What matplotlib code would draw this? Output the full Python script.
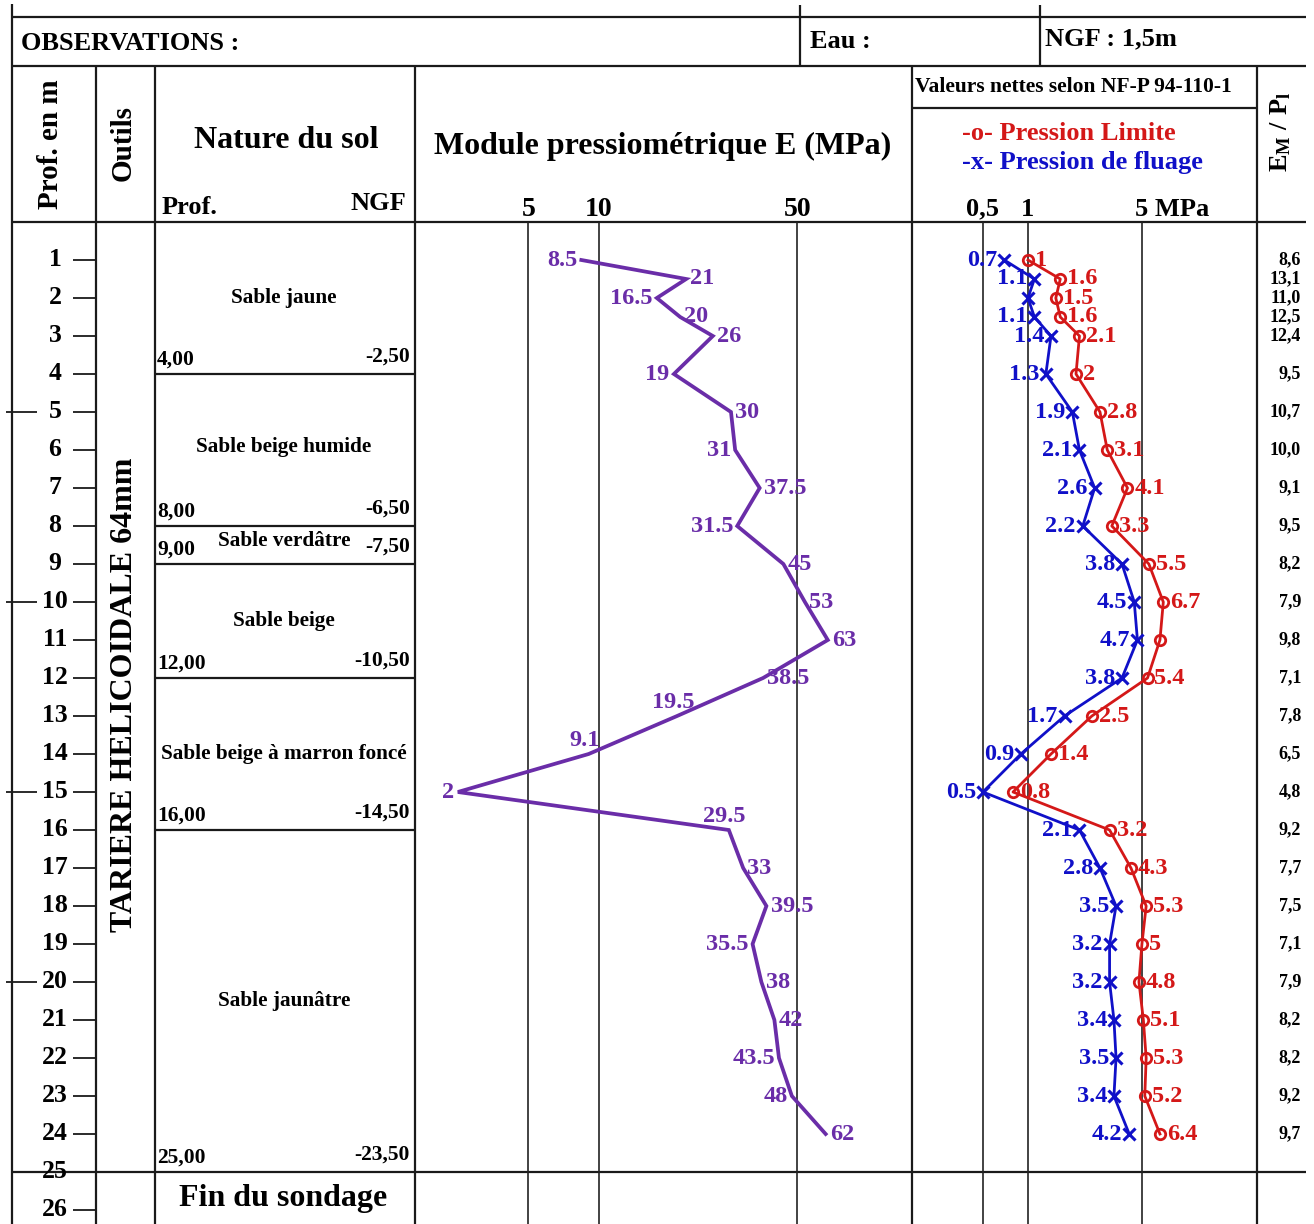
import numpy as np
import matplotlib
matplotlib.use('Agg')
import matplotlib.pyplot as plt
from matplotlib.transforms import blended_transform_factory

# ---------------- data ----------------
depth = [1, 1.5, 2, 2.5, 3, 4, 5, 6, 7, 8, 9, 10, 11, 12, 13, 14, 15, 16, 17, 18, 19, 20, 21, 22, 23, 24]
E_mod = [8.5, 21, 16.5, 20, 26, 19, 30, 31, 37.5, 31.5, 45, 53, 63, 38.5, 19.5, 9.1, 2, 29.5,
         33, 39.5, 35.5, 38, 42, 43.5, 48, 62]
p_lim = [1, 1.6, 1.5, 1.6, 2.1, 2, 2.8, 3.1, 4.1, 3.3, 5.5, 6.7, 6.4, 5.4, 2.5, 1.4, 0.8, 3.2,
         4.3, 5.3, 5, 4.8, 5.1, 5.3, 5.2, 6.4]
p_lim_labels = ['1', '1.6', '1.5', '1.6', '2.1', '2', '2.8', '3.1', '4.1', '3.3', '5.5', '6.7', '',
                '5.4', '2.5', '1.4', '0.8', '3.2', '4.3', '5.3', '5', '4.8', '5.1', '5.3', '5.2', '6.4']
p_flu = [0.7, 1.1, 1.0, 1.1, 1.4, 1.3, 1.9, 2.1, 2.6, 2.2, 3.8, 4.5, 4.7, 3.8, 1.7, 0.9, 0.5, 2.1,
         2.8, 3.5, 3.2, 3.2, 3.4, 3.5, 3.4, 4.2]
p_flu_labels = ['0.7', '1.1', '', '1.1', '1.4', '1.3', '1.9', '2.1', '2.6', '2.2', '3.8', '4.5', '4.7',
                '3.8', '1.7', '0.9', '0.5', '2.1', '2.8', '3.5', '3.2', '3.2', '3.4', '3.5', '3.4', '4.2']
em_pl = ['8,6', '13,1', '11,0', '12,5', '12,4', '9,5', '10,7', '10,0', '9,1', '9,5', '8,2', '7,9', '9,8',
         '7,1', '7,8', '6,5', '4,8', '9,2', '7,7', '7,5', '7,1', '7,9', '8,2', '8,2', '9,2', '9,7']

layer_names = ['Sable jaune', 'Sable beige humide', 'Sable verdâtre', 'Sable beige',
               'Sable beige à marron foncé', 'Sable jaunâtre']
layer_bottom = [4, 8, 9, 12, 16, 25]
layer_ngf = [-2.5, -6.5, -7.5, -10.5, -14.5, -23.5]
layer_label_depth = [2.0, 5.92, 8.4, 10.5, 14.0, 20.5]

E_ticks = [5, 10, 50]
E_tick_labels = ['5', '10', '50']
P_ticks = [0.5, 1, 5]
depth_ticks = list(range(1, 27))

# label placement (style)
E_side = ['l', 'r', 'l', 'r', 'r', 'l', 'r', 'l', 'r', 'l', 'r', 'r', 'r', 'r', 'a', 'a', 'l', 'a',
          'r', 'r', 'l', 'r', 'r', 'l', 'l', 'r']

# ---------------- style ----------------
plt.rcParams['font.family'] = ['Liberation Serif', 'DejaVu Serif']
plt.rcParams['font.weight'] = 'bold'
plt.rcParams['mathtext.fontset'] = 'custom'
plt.rcParams['mathtext.rm'] = 'Liberation Serif:bold'
plt.rcParams['mathtext.it'] = 'Liberation Serif:bold'
plt.rcParams['mathtext.bf'] = 'Liberation Serif:bold'

PURPLE = '#6a2da8'
RED = '#d41818'
BLUE = '#1010c8'
LINE = '#1a1a1a'
GRID = '#222222'
FW = 'bold'

W, H = 1314, 1224
fig = plt.figure(figsize=(W / 100, H / 100), dpi=100)
fig.patch.set_facecolor('white')


def px_axes(x0, y0, x1, y1, z):
    ax = fig.add_axes([x0 / W, 1 - y1 / H, (x1 - x0) / W, (y1 - y0) / H], zorder=z)
    ax.patch.set_alpha(0)
    ax.axis('off')
    return ax


frame = px_axes(0, 0, W, H, 0)
frame.set_xlim(0, W)
frame.set_ylim(H, 0)

TOP = 222
PXM = 38.0
DMAX = (H - TOP) / PXM

body = px_axes(0, TOP, W, H, 1)
body.set_xlim(0, W)
body.set_ylim(DMAX, 0)

# ---------------- table frame ----------------
lw = 1.6
frame.vlines(12, 4, H, color=LINE, lw=lw)
frame.hlines([17, 66, 222], 12, 1306, color=LINE, lw=lw)
frame.vlines([800, 1040], 5, 66, color=LINE, lw=lw)
frame.vlines([96, 155, 415, 912, 1257], 66, H, color=LINE, lw=lw)
frame.hlines(108, 912, 1257, color=LINE, lw=lw)

frame.text(21, 43, 'OBSERVATIONS :', fontsize=19, va='center', ha='left', fontweight=FW)
frame.text(810, 42, 'Eau :', fontsize=19, va='center', ha='left', fontweight=FW)
frame.text(1045, 39, 'NGF : 1,5m', fontsize=19, va='center', ha='left', fontweight=FW)
frame.text(50, 144, 'Prof. en m', fontsize=21, rotation=90, va='center', ha='center', fontweight=FW)
frame.text(123, 143, 'Outils', fontsize=21, rotation=90, va='center', ha='center', fontweight=FW)
frame.text(286, 141, 'Nature du sol', fontsize=23, va='center', ha='center', fontweight=FW)
frame.text(162, 207, 'Prof.', fontsize=19, va='center', ha='left', fontweight=FW)
frame.text(406, 203, 'NGF', fontsize=19, va='center', ha='right', fontweight=FW)
frame.text(663, 146, 'Module pressiométrique E (MPa)', fontsize=23, va='center', ha='center',
           fontweight=FW)
frame.text(1073, 87, 'Valeurs nettes selon NF-P 94-110-1', fontsize=15.5, va='center', ha='center',
           fontweight=FW)
frame.text(962, 133, '-o- Pression Limite', fontsize=19, va='center', ha='left', color=RED, fontweight=FW)
frame.text(962, 163, '-x- Pression de fluage', fontsize=19, va='center', ha='left', color=BLUE,
           fontweight=FW)
frame.text(1281, 132, r'$E_M\ /\ P_l$', fontsize=19, rotation=90, va='center', ha='center')

# ---------------- depth column ----------------
body.hlines(25, 12, 1306, color=LINE, lw=lw)
for d in depth_ticks:
    if d != 25:
        body.hlines(d, 73, 96, color=LINE, lw=1.3)
    if d % 5 == 0 and d != 25:
        body.hlines(d, 6, 37, color=LINE, lw=1.3)
    body.text(55, d, str(d), fontsize=18.5, ha='center', va='center', fontweight=FW)

body.text(125, 12.45, 'TARIERE HELICOIDALE 64mm', fontsize=23, rotation=90, ha='center', va='center',
          fontweight=FW)

# ---------------- soil column ----------------
body.hlines(layer_bottom[:-1], 155, 415, color=LINE, lw=1.6)
for name, dl, db, ngf in zip(layer_names, layer_label_depth, layer_bottom, layer_ngf):
    body.text(284, dl, name, fontsize=15.3, ha='center', va='center', fontweight=FW)
    body.annotate(f'{db:.2f}'.replace('.', ','), xy=(157, db), xytext=(0, 3),
                  textcoords='offset points', fontsize=15.5, ha='left', va='bottom', fontweight=FW)
    body.annotate(f'{ngf:.2f}'.replace('.', ','), xy=(410, db), xytext=(0, 5),
                  textcoords='offset points', fontsize=15.5, ha='right', va='bottom', fontweight=FW)
body.text(283, 25.7, 'Fin du sondage', fontsize=23, ha='center', va='center', fontweight=FW)

# ---------------- E modulus column ----------------
axE = px_axes(415, TOP, 912, H, 2)
axE.set_xscale('function', functions=(lambda v: np.log10(np.asarray(v) + 2.5),
                                      lambda v: 10 ** np.asarray(v) - 2.5))
axE.set_xlim(0.8, 118)
axE.set_ylim(DMAX, 0)
axE.vlines(E_ticks, 0, DMAX, color=GRID, lw=1.2)
axE.plot(E_mod, depth, color=PURPLE, lw=2.7, solid_joinstyle='miter')
LFS = 17.5
for v, d, s in zip(E_mod, depth, E_side):
    txt = f'{v:g}'
    if s == 'r':
        axE.annotate(txt, (v, d), xytext=(3, 0), textcoords='offset points', ha='left', va='center',
                     color=PURPLE, fontsize=LFS, fontweight=FW)
    elif s == 'l':
        axE.annotate(txt, (v, d), xytext=(-3, 0), textcoords='offset points', ha='right', va='center',
                     color=PURPLE, fontsize=LFS, fontweight=FW)
    else:
        axE.annotate(txt, (v, d), xytext=(-3, 2), textcoords='offset points', ha='center', va='bottom',
                     color=PURPLE, fontsize=LFS, fontweight=FW)
trE = blended_transform_factory(axE.transData, frame.transData)
for t, lab in zip(E_ticks, E_tick_labels):
    frame.text(t, 209, lab, transform=trE, fontsize=20, ha='center', va='center', fontweight=FW)

# ---------------- pressure column ----------------
axP = px_axes(912, TOP, 1257, H, 2)
axP.set_xscale('function', functions=(lambda v: np.log10(np.asarray(v) + 0.1),
                                      lambda v: 10 ** np.asarray(v) - 0.1))
axP.set_xlim(0.131, 23.9)
axP.set_ylim(DMAX, 0)
axP.vlines(P_ticks, 0, DMAX, color=GRID, lw=1.2)
axP.plot(p_flu, depth, color=BLUE, lw=2.0, marker='x', ms=8, mew=2.2)
axP.plot(p_lim, depth, color=RED, lw=2.0, marker='o', ms=7.5, mfc='none', mew=2.0)
for v, d, lab in zip(p_lim, depth, p_lim_labels):
    if lab:
        axP.annotate(lab, (v, d), xytext=(5, 0), textcoords='offset points', ha='left', va='center',
                     color=RED, fontsize=LFS, fontweight=FW)
for v, d, lab in zip(p_flu, depth, p_flu_labels):
    if lab:
        axP.annotate(lab, (v, d), xytext=(-5, 0), textcoords='offset points', ha='right', va='center',
                     color=BLUE, fontsize=LFS, fontweight=FW)
trP = blended_transform_factory(axP.transData, frame.transData)
frame.text(0.5, 209, '0,5', transform=trP, fontsize=19, ha='center', va='center', fontweight=FW)
frame.text(1, 209, '1', transform=trP, fontsize=19, ha='center', va='center', fontweight=FW)
frame.annotate('5 MPa', xy=(5, 209), xycoords=trP, xytext=(-5, 0), textcoords='offset points',
               fontsize=19, ha='left', va='center', fontweight=FW)

# ---------------- E/Pl column ----------------
for d, r in zip(depth, em_pl):
    body.text(1301, d, r, fontsize=13, ha='right', va='center', fontweight=FW)

fig.savefig('out.png', dpi=100, facecolor='white')
